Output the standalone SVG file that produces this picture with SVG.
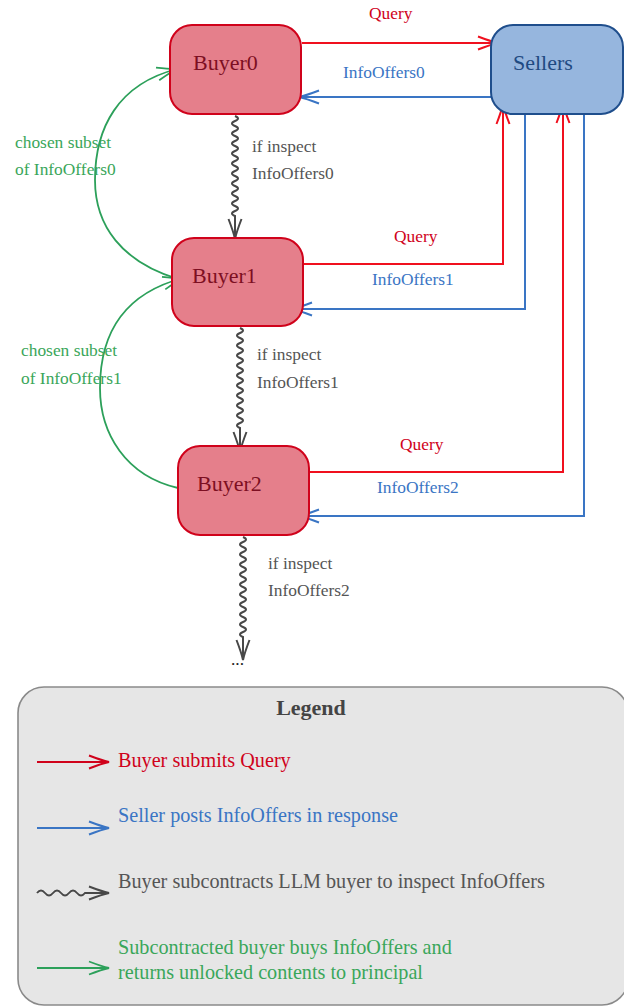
<svg xmlns="http://www.w3.org/2000/svg" width="624" height="1006" viewBox="0 0 624 1006">
  <style>
    text { font-family: "Liberation Serif", "DejaVu Serif", serif; }
    .node-label { font-size: 22px; }
    .edge-label { font-size: 17.4px; }
    .legend-text { font-size: 20.2px; }
    .buyer rect { fill: #e57f8b; stroke: #d0021b; stroke-width: 2; }
    .buyer text { fill: #7d0f22; }
    .seller rect { fill: #96b6de; stroke: #1f4e8c; stroke-width: 2; }
    .seller text { fill: #1f4a82; }
    .query { fill: none; stroke: #f0101e; stroke-width: 2; marker-end: url(#head-red); }
    .offer { fill: none; stroke: #3a75c4; stroke-width: 2; marker-end: url(#head-blue); }
    .wave { fill: none; stroke: #484848; stroke-width: 2; marker-end: url(#head-gray); }
    .chosen { fill: none; stroke: #2ca05a; stroke-width: 1.8; marker-end: url(#head-green); }
    .red-t { fill: #d0021b; }
    .blue-t { fill: #3a75c4; }
    .gray-t { fill: #555555; }
    .green-t { fill: #3aa65a; }
  </style>
  <defs>
    <marker id="head-red" markerUnits="userSpaceOnUse" markerWidth="50" markerHeight="30" viewBox="-25 -15 50 30" refX="0" refY="0" orient="auto">
      <path d="M -20,-6.5 Q -7,-1.5 0,0 Q -7,1.5 -20,6.5" fill="none" stroke="#f0101e" stroke-width="2"/>
    </marker>
    <marker id="head-blue" markerUnits="userSpaceOnUse" markerWidth="50" markerHeight="30" viewBox="-25 -15 50 30" refX="0" refY="0" orient="auto">
      <path d="M -20,-6.5 Q -7,-1.5 0,0 Q -7,1.5 -20,6.5" fill="none" stroke="#3a75c4" stroke-width="2"/>
    </marker>
    <marker id="head-gray" markerUnits="userSpaceOnUse" markerWidth="50" markerHeight="30" viewBox="-25 -15 50 30" refX="0" refY="0" orient="auto">
      <path d="M -20,-6.5 Q -7,-1.5 0,0 Q -7,1.5 -20,6.5" fill="none" stroke="#484848" stroke-width="2"/>
    </marker>
    <marker id="head-green" markerUnits="userSpaceOnUse" markerWidth="50" markerHeight="30" viewBox="-25 -15 50 30" refX="0" refY="0" orient="auto">
      <path d="M -20,-6.5 Q -7,-1.5 0,0 Q -7,1.5 -20,6.5" fill="none" stroke="#2ca05a" stroke-width="1.8"/>
    </marker>
    <marker id="head-red-legend" markerUnits="userSpaceOnUse" markerWidth="50" markerHeight="30" viewBox="-25 -15 50 30" refX="0" refY="0" orient="auto">
      <path d="M -20,-6.5 Q -7,-1.5 0,0 Q -7,1.5 -20,6.5" fill="none" stroke="#d0021b" stroke-width="2"/>
    </marker>
  </defs>

  <!-- connectors -->
  <g id="connectors">
    <!-- queries to sellers -->
    <path class="query" d="M 302,43 L 498,43"/>
    <path class="query" d="M 304,264 L 503,264 L 503,104"/>
    <path class="query" d="M 310,472 L 563,472 L 563,103"/>
    <!-- offers back to buyers -->
    <path class="offer" d="M 491,97 L 299,97"/>
    <path class="offer" d="M 525,114 L 525,309 L 292,309"/>
    <path class="offer" d="M 584,114 L 584,516 L 299,516"/>
    <!-- subcontracting (wavy) -->
    <path class="wave" d="M 235,116 q 6,2.5 0,5 t 0,5 t 0,5 t 0,5 t 0,5 t 0,5 t 0,5 t 0,5 t 0,5 t 0,5 t 0,5 t 0,5 t 0,5 t 0,5 t 0,5 t 0,5 t 0,5 t 0,5 t 0,5 t 0,5 L 235,239"/>
    <path class="wave" d="M 240,328 q 6,2.5 0,5 t 0,5 t 0,5 t 0,5 t 0,5 t 0,5 t 0,5 t 0,5 t 0,5 t 0,5 t 0,5 t 0,5 t 0,5 t 0,5 t 0,5 t 0,5 t 0,5 t 0,5 t 0,5 t 0,5 L 240,452"/>
    <path class="wave" d="M 243,537 q 6,2.5 0,5 t 0,5 t 0,5 t 0,5 t 0,5 t 0,5 t 0,5 t 0,5 t 0,5 t 0,5 t 0,5 t 0,5 t 0,5 t 0,5 t 0,5 t 0,5 t 0,5 t 0,5 t 0,5 t 0,5 L 243,660"/>
    <!-- chosen subsets returned -->
    <path class="chosen" d="M 178,279 C 122,262 95,226 95,180 C 95,128 118,84 177,69"/>
    <path class="chosen" d="M 178,488 C 126,476 100,434 100,388 C 100,336 122,294 183,278"/>

    <!-- connector labels -->
    <text class="edge-label red-t" x="369" y="19">Query</text>
    <text class="edge-label blue-t" x="343" y="78">InfoOffers0</text>
    <text class="edge-label red-t" x="394" y="242">Query</text>
    <text class="edge-label blue-t" x="372" y="285">InfoOffers1</text>
    <text class="edge-label red-t" x="400" y="450">Query</text>
    <text class="edge-label blue-t" x="377" y="493">InfoOffers2</text>

    <text class="edge-label gray-t" x="252" y="152">if inspect</text>
    <text class="edge-label gray-t" x="252" y="179">InfoOffers0</text>
    <text class="edge-label gray-t" x="257" y="360">if inspect</text>
    <text class="edge-label gray-t" x="257" y="388">InfoOffers1</text>
    <text class="edge-label gray-t" x="268" y="569">if inspect</text>
    <text class="edge-label gray-t" x="268" y="596">InfoOffers2</text>
    <text class="edge-label" x="231" y="665" fill="#222">...</text>

    <text class="edge-label green-t" x="15" y="148">chosen subset</text>
    <text class="edge-label green-t" x="15" y="175">of InfoOffers0</text>
    <text class="edge-label green-t" x="21" y="356">chosen subset</text>
    <text class="edge-label green-t" x="21" y="384">of InfoOffers1</text>
  </g>

  <!-- nodes -->
  <g id="buyer0" class="buyer">
    <rect x="170" y="25" width="131" height="89" rx="22"/>
    <text class="node-label" x="193" y="70">Buyer0</text>
  </g>
  <g id="sellers" class="seller">
    <rect x="491" y="25" width="132" height="89" rx="22"/>
    <text class="node-label" x="513" y="70">Sellers</text>
  </g>
  <g id="buyer1" class="buyer">
    <rect x="172" y="238" width="131" height="88" rx="22"/>
    <text class="node-label" x="192" y="283">Buyer1</text>
  </g>
  <g id="buyer2" class="buyer">
    <rect x="178" y="446" width="131" height="89" rx="22"/>
    <text class="node-label" x="197" y="491">Buyer2</text>
  </g>

  <!-- legend -->
  <g id="legend">
    <rect x="18" y="687" width="610" height="318" rx="26" fill="#e6e6e6" stroke="#8a8a8a" stroke-width="1.6"/>
    <text x="311" y="715" text-anchor="middle" font-size="22" font-weight="bold" fill="#444">Legend</text>

    <path d="M 37,762 L 109,762" fill="none" stroke="#d0021b" stroke-width="2" marker-end="url(#head-red-legend)"/>
    <text class="legend-text red-t" x="118" y="767">Buyer submits Query</text>

    <path d="M 37,828 L 109,828" fill="none" stroke="#3a75c4" stroke-width="2" marker-end="url(#head-blue)"/>
    <text class="legend-text blue-t" x="118" y="822">Seller posts InfoOffers in response</text>

    <path d="M 37,893 q 4,-5 8,0 t 8,0 t 8,0 t 8,0 t 8,0 t 8,0 L 109,893" fill="none" stroke="#484848" stroke-width="2" marker-end="url(#head-gray)"/>
    <text class="legend-text gray-t" x="118" y="888">Buyer subcontracts LLM buyer to inspect InfoOffers</text>

    <path d="M 37,968 L 109,968" fill="none" stroke="#2ca05a" stroke-width="2" marker-end="url(#head-green)"/>
    <text class="legend-text green-t" x="118" y="954">Subcontracted buyer buys InfoOffers and</text>
    <text class="legend-text green-t" x="118" y="979">returns unlocked contents to principal</text>
  </g>
</svg>
